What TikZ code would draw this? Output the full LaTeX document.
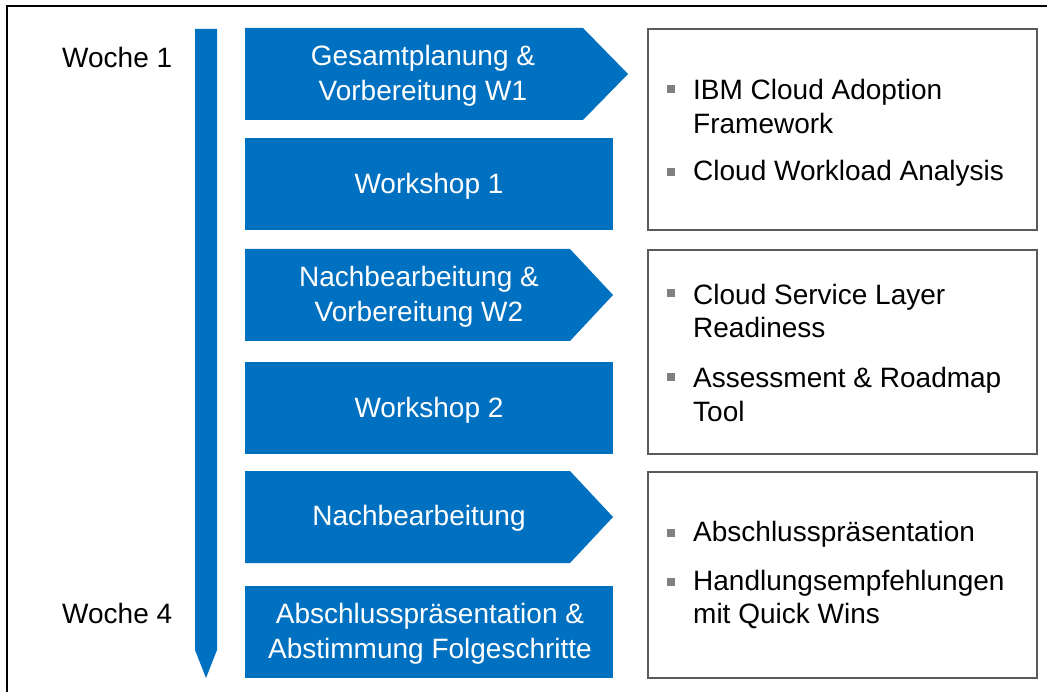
\documentclass[tikz,border=0pt]{standalone}
\usepackage{fontspec}
\setmainfont{Liberation Sans}
\definecolor{ibmblue}{RGB}{0,112,192}
\definecolor{framegray}{RGB}{90,90,90}
\definecolor{bulletgray}{RGB}{128,128,128}
\begin{document}
\begin{tikzpicture}[x=1pt,y=-1pt,
  blk/.style={fill=ibmblue,draw=none},
  blktext/.style={text=white,align=center,font=\fontsize{28}{35}\selectfont,inner sep=0pt},
  infobox/.style={draw=framegray,line width=1.3pt,fill=white},
  bul/.style={fill=bulletgray,draw=none,minimum size=8pt,inner sep=0pt},
  bultext/.style={anchor=west,align=left,font=\fontsize{28}{33.5}\selectfont,inner sep=0pt},
  week/.style={font=\fontsize{28}{33}\selectfont,inner sep=0pt}]
\useasboundingbox (0,0) rectangle (1047,692);
\fill[white] (0,0) rectangle (1047,692);
\clip (0,0) rectangle (1047,692);
% outer frame
\draw[line width=2.6pt,black] (7,710) -- (7,6) -- (1070,6);
% timeline arrow
\fill[ibmblue] (195,29) -- (217,29) -- (217,650) -- (206,678) -- (195,650) -- cycle;
% week labels
\node[week,anchor=west] (w1) at (62,57.5) {Woche 1};
\node[week,anchor=west] (w4) at (62,613.5) {Woche 4};
% blue blocks
\fill[blk] (245,28) -- (583,28) -- (628,74) -- (583,120) -- (245,120) -- cycle;
\node[blktext] (b1) at (423,75.5) {Gesamtplanung \&\\Vorbereitung W1};
\fill[blk] (245,138) rectangle (613,230);
\node[blktext] (b2) at (429,186) {Workshop 1};
\fill[blk] (245,249) -- (570,249) -- (613,295) -- (570,341) -- (245,341) -- cycle;
\node[blktext] (b3) at (419,296.5) {Nachbearbeitung \&\\Vorbereitung W2};
\fill[blk] (245,362) rectangle (613,454);
\node[blktext] (b4) at (429,410) {Workshop 2};
\fill[blk] (245,471) -- (570,471) -- (613,517) -- (570,563) -- (245,563) -- cycle;
\node[blktext] (b5) at (419,518.5) {Nachbearbeitung};
\fill[blk] (245,586) rectangle (613,678);
\node[blktext] (b6) at (430,633.5) {Abschlusspräsentation \&\\Abstimmung Folgeschritte};
% info boxes
\draw[infobox] (648,29) rectangle (1037,230);
\draw[infobox] (648,250) rectangle (1037,454);
\draw[infobox] (648,472) rectangle (1037,678);
% bullets box 1
\node[bul] (p1) at (671,89) {};
\node[bultext] (t1) at (693,106.5) {IBM Cloud Adoption\\Framework};
\node[bul] (p2) at (671,172) {};
\node[bultext] (t2) at (693,173) {Cloud Workload Analysis};
% bullets box 2
\node[bul] (p3) at (671,293) {};
\node[bultext] (t3) at (693,311) {Cloud Service Layer\\Readiness};
\node[bul] (p4) at (671,377) {};
\node[bultext] (t4) at (693,394.5) {Assessment \& Roadmap\\Tool};
% bullets box 3
\node[bul] (p5) at (671,533) {};
\node[bultext] (t5) at (693,534) {Abschlusspräsentation};
\node[bul] (p6) at (671,582) {};
\node[bultext] (t6) at (693,599.5) {Handlungsempfehlungen\\mit Quick Wins};
\end{tikzpicture}
\end{document}
